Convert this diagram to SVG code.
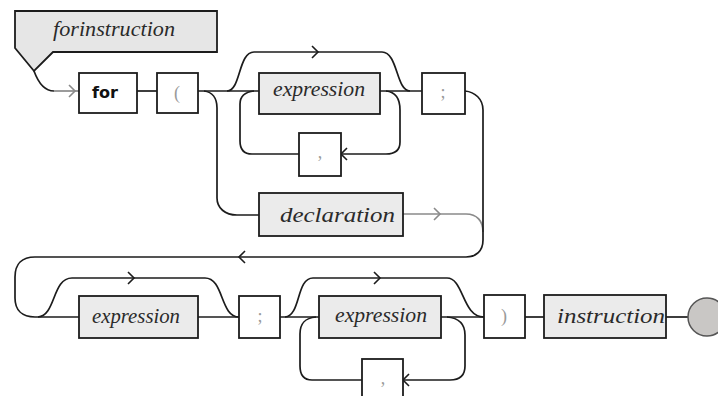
<svg xmlns="http://www.w3.org/2000/svg" xmlns:xlink="http://www.w3.org/1999/xlink" width="718" height="396" viewBox="0 0 718 396">
  <style>
    .wire { fill: none; stroke: #1c1c1c; stroke-width: 1.7; }
    .wire.light { stroke: #8a8a8a; }
    .chev { fill: none; stroke: #1c1c1c; stroke-width: 1.6; }
    .chev.light { stroke: #8a8a8a; }
    .term { fill: #ffffff; stroke: #1c1c1c; stroke-width: 1.8; }
    .nonterm { fill: #ebebeb; stroke: #1c1c1c; stroke-width: 1.8; }
    .head { fill: #e6e6e6; stroke: #1c1c1c; stroke-width: 1.8; }
    .ital { font-family: "Liberation Serif", "DejaVu Serif", serif; font-style: italic; fill: #2a2a2a; }
    .sym { font-family: "Liberation Serif", serif; fill: #9a9a9a; font-size: 18px; text-anchor: middle; }
    .kw { font-family: "DejaVu Sans", "Liberation Sans", sans-serif; font-weight: bold; font-size: 15px; fill: #111; }
  </style>
  <defs>
    <path id="chev" d="M-3,-6 L3,0 L-3,6"/>
  </defs>
  <rect width="718" height="396" fill="#ffffff"/>

  <!-- connectors -->
  <g id="connectors">
    <!-- entry from title tab -->
    <path class="wire" d="M34,71 C38,82 44,91 54,91"/>
    <path class="wire light" d="M54,91 H79"/>
    <use href="#chev" class="chev light" transform="translate(72,91)"/>
    <path class="wire" d="M137,91 H157"/>
    <path class="wire" d="M198,91 H259"/>
    <!-- bypass over first expression -->
    <path class="wire" d="M227,91 C241,91 238,52 254,52 H382 C398,52 396,91 410,91"/>
    <use href="#chev" class="chev" transform="translate(315,52)"/>
    <path class="wire" d="M380,91 H422"/>
    <!-- repeat loop through comma -->
    <path class="wire" d="M386,91 C396,92 400,99 400,110 V142 C400,150 395,154 386,154 H341"/>
    <use href="#chev" class="chev" transform="translate(344,154) rotate(180)"/>
    <path class="wire" d="M299,154 H252 C244,154 240,149 240,141 V104 C240,96 245,92 254,91"/>
    <!-- declaration branch -->
    <path class="wire" d="M204,91 C212,92 217,98 217,108 V198 C217,208 225,215 237,215 H259"/>
    <path class="wire light" d="M403,214 H466 C477,214 483,221 483,232"/>
    <use href="#chev" class="chev light" transform="translate(437,214)"/>
    <!-- wrap to second row -->
    <path class="wire" d="M465,91 C475,92 483,99 483,110 V240 C483,251 476,257 466,257 H35 C22,257 15,264 15,277 V298 C15,310 22,317 35,317 H79"/>
    <use href="#chev" class="chev" transform="translate(242,257) rotate(180)"/>
    <!-- bypass over second expression -->
    <path class="wire" d="M38,317 C56,316 52,278 72,278 H205 C224,278 220,317 239,317"/>
    <use href="#chev" class="chev" transform="translate(131,278)"/>
    <path class="wire" d="M198,317 H239"/>
    <path class="wire" d="M280,317 H319"/>
    <!-- bypass over third expression -->
    <path class="wire" d="M285,317 C301,316 296,278 313,278 H447 C464,278 462,317 484,317"/>
    <use href="#chev" class="chev" transform="translate(377,278)"/>
    <path class="wire" d="M441,317 H484"/>
    <!-- repeat loop through second comma -->
    <path class="wire" d="M447,317 C459,318 465,324 465,335 V366 C465,375 460,380 450,380 H403"/>
    <use href="#chev" class="chev" transform="translate(406,380) rotate(180)"/>
    <path class="wire" d="M362,380 H312 C304,380 300,375 300,366 V334 C300,323 305,318 316,317"/>
    <path class="wire" d="M525,317 H544"/>
    <path class="wire" d="M666,317 H688"/>
  </g>

  <g id="title">
    <path class="head" d="M15,11 H217 V52 H53 L34,71 L15,48 Z"/>
    <text class="ital" x="53" y="36" font-size="21" textLength="122" lengthAdjust="spacingAndGlyphs">forinstruction</text>
  </g>
  <g id="kw-for">
    <rect class="term" x="79" y="73" width="58" height="40"/>
    <text class="kw" x="92" y="98" textLength="26" lengthAdjust="spacingAndGlyphs">for</text>
  </g>
  <g id="lparen">
    <rect class="term" x="157" y="73" width="41" height="40"/>
    <text class="sym" x="177" y="99">(</text>
  </g>
  <g id="expr1">
    <rect class="nonterm" x="259" y="73" width="121" height="41"/>
    <text class="ital" x="273" y="96" font-size="20" textLength="92" lengthAdjust="spacingAndGlyphs">expression</text>
  </g>
  <g id="comma1">
    <rect class="term" x="299" y="133" width="42" height="43"/>
    <text class="sym" x="320" y="158">,</text>
  </g>
  <g id="semi1">
    <rect class="term" x="422" y="73" width="43" height="41"/>
    <text class="sym" x="443" y="98">;</text>
  </g>
  <g id="decl">
    <rect class="nonterm" x="259" y="193" width="144" height="43"/>
    <text class="ital" x="280" y="222" font-size="22" textLength="115" lengthAdjust="spacingAndGlyphs">declaration</text>
  </g>
  <g id="expr2">
    <rect class="nonterm" x="79" y="296" width="119" height="42"/>
    <text class="ital" x="92" y="323" font-size="20" textLength="88" lengthAdjust="spacingAndGlyphs">expression</text>
  </g>
  <g id="semi2">
    <rect class="term" x="239" y="296" width="41" height="42"/>
    <text class="sym" x="260" y="322">;</text>
  </g>
  <g id="expr3">
    <rect class="nonterm" x="319" y="296" width="122" height="42"/>
    <text class="ital" x="335" y="322" font-size="20" textLength="92" lengthAdjust="spacingAndGlyphs">expression</text>
  </g>
  <g id="comma2">
    <rect class="term" x="362" y="359" width="41" height="42"/>
    <text class="sym" x="383" y="384">,</text>
  </g>
  <g id="rparen">
    <rect class="term" x="484" y="295" width="41" height="43"/>
    <text class="sym" x="504" y="322">)</text>
  </g>
  <g id="instr">
    <rect class="nonterm" x="544" y="295" width="122" height="43"/>
    <text class="ital" x="557" y="323" font-size="22" textLength="108" lengthAdjust="spacingAndGlyphs">instruction</text>
  </g>
  <g id="end">
    <circle cx="707" cy="317" r="19" fill="#c9c7c5" stroke="#555" stroke-width="1.5"/>
  </g>
</svg>
